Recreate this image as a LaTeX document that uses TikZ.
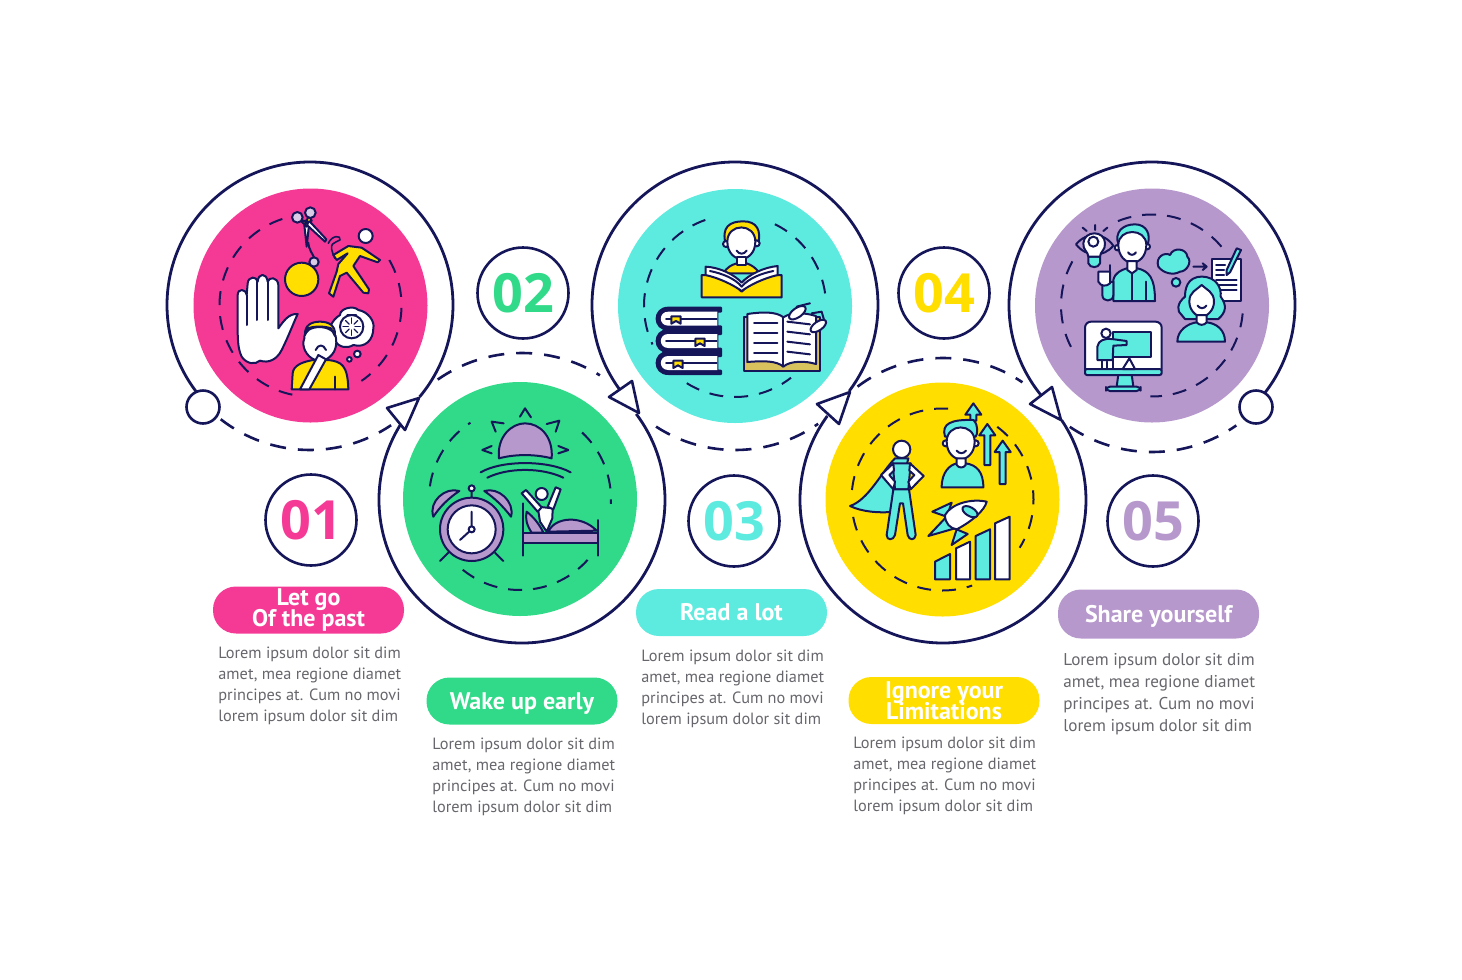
\documentclass[tikz,border=0pt]{standalone}
\usepackage{fontspec}
\setmainfont{PT Sans}
\newfontfamily\numfont{Open Sans}
\definecolor{navy}{HTML}{15155A}
\definecolor{pinkc}{HTML}{F53A96}
\definecolor{greenc}{HTML}{30DA88}
\definecolor{tealc}{HTML}{5EEBDF}
\definecolor{yellowc}{HTML}{FFDE00}
\definecolor{purplec}{HTML}{B698CC}
\definecolor{greyt}{HTML}{66666C}
\definecolor{tanc}{HTML}{D8C25E}
\tikzset{
	ring/.style={draw=navy,line width=1.4pt},
	dashring/.style={draw=navy,line width=1.3pt,dash pattern=on 8pt off 6pt},
	indash/.style={draw=navy,line width=1pt,dash pattern=on 7pt off 5.5pt},
	tipshape/.style={draw=navy,line width=1.3pt,fill=white,line join=round},
	disk/.style={circle,inner sep=0pt,minimum size=117pt},
	numc/.style={circle,draw=navy,line width=1.3pt,fill=white,inner sep=0pt,minimum size=45.5pt,font=\numfont\bfseries\fontsize{27}{27}\selectfont},
	pill/.style={rounded corners=11.5pt,minimum width=95.5pt,minimum height=23.5pt,inner sep=0pt,align=center,text=white,font=\bfseries\fontsize{12}{11}\selectfont},
	bodyt/.style={anchor=north west,inner sep=0pt,align=left,text=greyt,font=\fontsize{8.15}{10.5}\selectfont},
	ic/.style={draw=navy,line width=1pt,line join=round,line cap=round},
	zoomat/.style={shift={#1},scale=.33333},
}
% arrow icon used in the yellow disk
\newcommand{\riseicon}[3]{\draw[ic,fill=tealc] (#1,#2)--(#1+24,#2+34)--(#1+9,#2+34)--(#1+9,#3)--(#1-9,#3)--(#1-9,#2+34)--(#1-24,#2+34)--cycle;}
\begin{document}
\begin{tikzpicture}[x=.5pt,y=-.5pt,line join=round]
	\useasboundingbox (0,0) rectangle (1462,980);
	% outer rings
	\foreach \x/\y/\s/\e in {310/305/136/400,522/500/213/-37,735/305/144/397,943/500/216/-34,1152/305/141/404}{
		\draw[ring] (\x,\y) ++(\s:143) arc[start angle=\s,end angle=\e,radius=143];
	}
	% dashes between the rings
	\foreach \x/\y/\r/\s/\e in {310/305/145/128/56,522/500/147/235/302,735/305/145/123/55,943/500/142/233/304,1152/305/147/124/55}{
		\draw[dashring] (\x,\y) ++(\s:\r) arc[start angle=\s,end angle=\e,radius=\r];
	}
	\draw[tipshape] (387,408)--(419,398)--(405,430)--cycle;
	\draw[tipshape] (609,397)--(632,381)--(639,413)--cycle;
	\draw[tipshape] (817,404)--(850,392)--(839,424)--cycle;
	\draw[tipshape] (1030,404)--(1052,387)--(1061,420)--cycle;
	\node[circle,draw=navy,line width=1.3pt,fill=white,inner sep=0pt,minimum size=16.5pt] (startc) at (203,407) {};
	\node[circle,draw=navy,line width=1.3pt,fill=white,inner sep=0pt,minimum size=16.5pt] (endc) at (1256,407) {};
	% disks
	\node[disk,fill=pinkc] (disk1) at (310.5,305.5) {};
	\node[disk,fill=greenc] (disk2) at (520,499) {};
	\node[disk,fill=tealc] (disk3) at (735,306) {};
	\node[disk,fill=yellowc] (disk4) at (942.5,499.5) {};
	\node[disk,fill=purplec] (disk5) at (1152,305.5) {};
	% inner dashes
	\foreach \x/\y/\s/\e in {310.5/305.5/252/99,310.5/305.5/-30/56,
		520/499/188/237,520/499/-47/3,520/499/129/42,
		735/306/122/52,735/306/251/155,735/306/-64/-7,
		942.5/499.5/186/275,942.5/499.5/169/71,942.5/499.5/-53/32,
		1152/305.5/248/321,1152/305.5/209/149,1152/305.5/5/91}{
		\draw[indash] (\x,\y) ++(\s:91) arc[start angle=\s,end angle=\e,radius=91];
	}
	% numbers
	\node[numc,text=pinkc] (num1) at (311,520) {01};
	\node[numc,text=greenc] (num2) at (523,293) {02};
	\node[numc,text=tealc] (num3) at (734,521) {03};
	\node[numc,text=yellowc] (num4) at (944,293) {04};
	\node[numc,text=purplec] (num5) at (1153,521) {05};
	% titles
	\node[pill,fill=pinkc] (title1) at (308.5,610) {Let go\\[-1.5pt]Of the past};
	\node[pill,fill=greenc,text depth=0pt] (title2) at (522,701) {Wake up early};
	\node[pill,fill=tealc] (title3) at (731.5,612.5) {Read a lot};
	\node[pill,fill=yellowc] (title4) at (944,700.5) {Ignore your\\[-1.5pt]Limitations};
	\node[pill,fill=purplec,text depth=0pt,minimum width=100.5pt,minimum height=24.5pt] (title5) at (1158.5,614) {Share yourself};
	% texts
	\foreach \n/\x/\y in {1/218/647,2/432/738,3/641/650,4/853/737}{
		\node[bodyt] (txt\n) at (\x,\y) {Lorem ipsum dolor sit dim\\amet, mea regione diamet\\principes at. Cum no movi\\lorem ipsum dolor sit dim};
	}
	\node[bodyt,font=\fontsize{8.55}{11.15}\selectfont] (txt5) at (1063,652.5) {Lorem ipsum dolor sit dim\\amet, mea regione diamet\\principes at. Cum no movi\\lorem ipsum dolor sit dim};
	% icon 1
	\begin{scope}[zoomat={(225,200)}]
		\draw[ic,fill=white] (38,285) .. controls (38,265) and (62,265) .. (65,285) -- (68,250) .. controls (70,228) and (95,228) .. (98,245) .. controls (100,218) and (125,218) .. (128,245) .. controls (132,230) and (158,230) .. (160,255) -- (160,385) .. controls (175,365) and (190,340) .. (218,342) .. controls (205,370) and (190,410) .. (170,450) .. controls (155,480) and (130,490) .. (105,482) .. controls (90,495) and (65,492) .. (50,470) .. controls (35,440) and (38,400) .. (38,285) -- cycle;
		\draw[ic] (65,285)--(65,375) (97,245)--(97,360) (128,245)--(128,360);
		\draw[ic,fill=yellowc] (230,238) circle (50);
		\draw[ic,fill=purplec!50!white] (267,186) circle (14);
		\draw[ic] (267,172) .. controls (262,160) and (252,150) .. (250,128);
		\draw[ic,line width=.8pt] (310,130) .. controls (320,105) and (350,105) .. (345,120) .. controls (330,130) and (305,125) .. (330,175);
		\draw[ic,fill=white] (238,75)--(245,140)--(252,75)--cycle;
		\draw[ic,fill=white] (235,65)--(300,125)--(304,118)--(250,60)--cycle;
		\draw[ic,fill=yellowc] (225,60)--(245,80)--(250,65)--cycle (252,48)--(240,70)--(260,62)--cycle;
		\draw[ic,fill=purplec!50!white] (217,52) circle (16) (256,38) circle (16);
		\draw[ic,fill=white] (422,108) circle (21);
		\draw[ic,fill=yellowc] (325,165) -- (370,138) -- (410,143) -- (465,180) -- (458,187) -- (405,168) -- (385,198) -- (432,268) -- (430,280) -- (415,278) -- (365,218) -- (345,228) -- (325,290) -- (312,280) -- (335,215) -- (340,192) -- (368,160) -- (335,180) -- cycle;
		\draw[ic,fill=white] (330,420) .. controls (300,395) and (320,360) .. (345,345) .. controls (345,325) and (385,315) .. (400,330) .. controls (430,335) and (450,365) .. (445,385) .. controls (445,420) and (420,445) .. (385,435) .. controls (370,445) and (340,445) .. (330,420) -- cycle;
		\draw[ic,fill=white] (380,380) circle (35);
		\foreach \a in {0,45,...,315}{\draw[ic,line width=.6pt] (380,380) ++(\a:10) -- ++(\a:16);}
		\draw[ic] (367,345)--(393,345);
		\draw[ic,fill=white] (397,462) circle (10) (373,478) circle (7);
		\draw[ic,fill=white] (270,480) .. controls (245,470) and (228,440) .. (238,415) .. controls (235,370) and (330,370) .. (333,415) .. controls (338,450) and (320,470) .. (300,480) -- cycle;
		\draw[ic,fill=yellowc] (240,405) .. controls (238,375) and (260,365) .. (285,365) .. controls (310,365) and (333,375) .. (330,408) -- (318,385) .. controls (300,378) and (265,378) .. (250,385) -- cycle;
		\draw[ic] (272,450) .. controls (280,432) and (295,432) .. (303,450);
		\draw[ic,fill=yellowc] (200,568) -- (203,520) .. controls (205,495) and (235,485) .. (265,480) -- (310,480) .. controls (350,485) and (368,495) .. (370,568) -- cycle;
		\draw[ic,fill=white] (225,568) -- (280,465) -- (303,478) -- (253,568) -- cycle;
		\draw[ic] (330,530)--(330,568);
	\end{scope}
	% icon 2
	\begin{scope}[zoomat={(425,410)}]
		\draw[ic,fill=purplec] (222,145) .. controls (215,80) and (260,40) .. (300,40) .. controls (345,40) and (385,80) .. (380,145) .. controls (330,132) and (270,132) .. (222,145) -- cycle;
		\draw[ic] (285,20)--(300,-5)--(318,22) (236,40)--(200,35)--(212,65) (365,42)--(403,32)--(392,65) (200,108)--(172,120)--(200,130) (400,108)--(430,120)--(400,130);
		\draw[ic] (167,187) .. controls (230,150) and (370,150) .. (437,187) (187,203) .. controls (250,172) and (350,172) .. (415,203);
		\draw[ic,fill=purplec] (25,320) .. controls (10,275) and (60,230) .. (103,243) .. controls (70,265) and (45,290) .. (25,320) -- cycle;
		\draw[ic,fill=purplec] (258,320) .. controls (270,275) and (220,230) .. (178,243) .. controls (210,265) and (235,290) .. (258,320) -- cycle;
		\draw[ic] (140,235)--(140,262) (70,428)--(45,453) (210,428)--(235,453);
		\draw[ic,fill=white] (140,235) circle (9);
		\draw[ic,fill=purplec] (140,358) circle (95);
		\draw[ic,fill=white] (140,358) circle (72);
		\draw[ic] (140,305)--(140,358)--(105,390);
		\draw[ic,fill=white] (140,358) circle (9);
		\draw[ic,fill=purplec] (305,305) .. controls (325,320) and (345,345) .. (355,368) -- (320,368) .. controls (305,345) and (300,325) .. (305,305) -- cycle;
		\draw[ic,fill=purplec] (370,365) .. controls (390,320) and (470,315) .. (515,362) -- cycle;
		\draw[ic,fill=purplec] (295,368) rectangle (520,400);
		\draw[ic] (293,280)--(293,437) (520,330)--(520,437);
		\draw[ic,fill=white] (338,290) -- (383,295) -- (382,325) -- (365,365) -- (345,335) -- cycle;
		\draw[ic,fill=white] (290,250) -- (303,240) -- (350,292) -- (338,305) -- cycle;
		\draw[ic,fill=white] (392,232) -- (407,238) -- (385,298) -- (368,290) -- cycle;
		\draw[ic,fill=white] (350,252) circle (18);
	\end{scope}
	% icon 3
	\begin{scope}[zoomat={(640,210)}]
		\draw[ic,fill=yellowc] (258,105) .. controls (242,50) and (270,34) .. (310,34) .. controls (350,34) and (365,60) .. (354,105) -- cycle;
		\draw[ic,fill=white] (258,102) circle (9) (350,100) circle (9);
		\draw[ic,fill=white] (262,95) .. controls (262,38) and (346,38) .. (346,95) .. controls (346,130) and (322,147) .. (304,147) .. controls (286,147) and (262,130) .. (262,95) -- cycle;
		\draw[ic] (290,122) .. controls (298,134) and (312,134) .. (320,122);
		\draw[ic,fill=yellowc] (250,190) .. controls (262,170) and (275,165) .. (290,160) -- (320,160) .. controls (335,165) and (350,175) .. (358,190) -- cycle;
		\draw[ic,fill=white] (290,142) rectangle (318,165);
		\draw[ic,fill=yellowc] (185,195) -- (185,262) -- (425,262) -- (425,195) -- (355,195) -- (305,245) -- (250,195) -- cycle;
		\draw[ic,fill=white] (197,170) .. controls (240,172) and (285,195) .. (305,218) .. controls (325,195) and (370,172) .. (413,168) -- (413,195) .. controls (370,205) and (330,225) .. (305,243) .. controls (280,225) and (240,205) .. (197,195) -- cycle;
		\draw[ic] (210,183) .. controls (245,190) and (285,205) .. (305,230) .. controls (325,205) and (365,190) .. (400,183);
		\foreach \y/\mx in {293/108,360/180,426/114}{
			\draw[ic,fill=navy] (243,\y) -- (85,\y) .. controls (38,\y) and (38,\y+66) .. (85,\y+66) -- (243,\y+66) -- (243,\y+56) -- (232,\y+56) -- (232,\y+12) -- (243,\y+12) -- cycle;
			\fill[white] (232,\y+12) -- (85,\y+12) .. controls (55,\y+12) and (55,\y+54) .. (85,\y+54) -- (232,\y+54) -- cycle;
			\draw[ic] (78,\y+33)--(230,\y+33);
			\draw[ic,fill=yellowc] (\mx-14,\y+26)--(\mx+14,\y+26)--(\mx+14,\y+48)--(\mx,\y+40)--(\mx-14,\y+48)--cycle;
		}
		\draw[ic,fill=tanc] (313,320) rectangle (540,482);
		\draw[ic,fill=white] (322,312) .. controls (370,305) and (410,305) .. (430,322) .. controls (455,305) and (495,308) .. (528,318) -- (528,462) .. controls (495,452) and (450,452) .. (430,470) .. controls (410,452) and (370,452) .. (322,456) -- cycle;
		\draw[ic] (430,322)--(430,470);
		\foreach \y in {0,30,60,90}{
			\draw[ic] (342,338+\y)--(412,338+\y);
			\draw[ic] (442,335+\y)--(510,343+\y);
		}
		\draw[ic] (470,290)--(510,280) (515,310)--(545,305)--(555,340);
		\draw[ic,fill=white,rotate around={35:(472,308)}] (472,308) ellipse (29 and 14);
		\draw[ic,fill=white,rotate around={35:(535,348)}] (535,348) ellipse (27 and 13);
	\end{scope}
	% icon 4
	\begin{scope}[zoomat={(845,400)}]
		\draw[ic,fill=tealc] (15,318) .. controls (70,300) and (110,215) .. (150,175) -- (190,175) -- (150,335) .. controls (100,340) and (50,335) .. (15,318) -- cycle;
		\draw[ic,fill=tealc] (143,190) -- (197,190) -- (190,268) -- (150,268) -- cycle;
		\draw[ic,fill=white] (145,190) -- (108,225) -- (145,268) -- (150,245) -- (133,225) -- (147,212) -- cycle;
		\draw[ic,fill=white] (195,190) -- (236,228) -- (197,268) -- (190,245) -- (208,225) -- (193,212) -- cycle;
		\draw[ic,fill=tealc] (145,268) -- (192,268) -- (212,405) .. controls (210,422) and (192,422) .. (188,405) -- (174,310) -- (165,310) -- (150,405) .. controls (145,422) and (125,422) .. (125,405) -- cycle;
		\draw[ic,fill=white] (170,148) circle (26);
		\riseicon{385}{10}{62}
		\riseicon{427}{72}{195}
		\riseicon{473}{122}{252}
		\draw[ic,fill=tealc] (300,110) .. controls (288,70) and (320,58) .. (385,60) .. controls (402,75) and (397,105) .. (392,110) -- cycle;
		\draw[ic,fill=white] (302,130) circle (9) (392,130) circle (9);
		\draw[ic,fill=white] (305,125) .. controls (305,68) and (389,68) .. (389,125) .. controls (389,160) and (365,178) .. (347,178) .. controls (329,178) and (305,160) .. (305,125) -- cycle;
		\draw[ic] (335,152) .. controls (343,162) and (355,162) .. (363,152);
		\draw[ic,fill=tealc] (290,262) .. controls (290,215) and (315,195) .. (335,190) -- (362,190) .. controls (395,195) and (415,215) .. (415,262) -- cycle;
		\draw[ic,fill=white] (335,175) -- (335,195) .. controls (342,205) and (355,205) .. (362,195) -- (362,175) -- cycle;
		\draw[ic,fill=tealc] (320,308) -- (262,335) -- (305,350) -- cycle;
		\draw[ic,fill=tealc] (300,355) -- (250,408) -- (330,385) -- cycle;
		\draw[ic,fill=tealc] (335,388) -- (320,435) -- (368,402) -- cycle;
		\draw[ic,fill=white] (425,305) .. controls (380,295) and (320,310) .. (300,345) .. controls (300,370) and (315,385) .. (335,388) .. controls (380,365) and (420,330) .. (425,305) -- cycle;
		\draw[ic,fill=tealc,rotate around={-30:(375,335)}] (375,335) ellipse (25 and 13);
		\draw[ic,fill=tealc] (270,538)--(270,485)--(315,462)--(315,538)--cycle;
		\draw[ic,fill=white] (333,538)--(333,445)--(375,425)--(375,538)--cycle;
		\draw[ic,fill=tealc] (392,538)--(392,408)--(435,388)--(435,538)--cycle;
		\draw[ic,fill=white] (450,538)--(450,370)--(494,350)--(494,538)--cycle;
	\end{scope}
	% icon 5
	\begin{scope}[zoomat={(1070,215)}]
		\draw[ic] (18,88) .. controls (50,50) and (100,50) .. (130,92) .. controls (100,128) and (50,128) .. (18,88) -- cycle;
		\draw[ic] (38,38)--(50,48) (75,30)--(75,45) (112,38)--(100,48);
		\draw[ic,fill=tealc] (55,125) -- (90,125) -- (90,145) .. controls (85,160) and (60,160) .. (55,145) -- cycle;
		\draw[ic,fill=white] (55,125) .. controls (55,110) and (38,105) .. (40,85) .. controls (42,45) and (105,45) .. (105,85) .. controls (107,105) and (90,110) .. (90,125) -- cycle;
		\draw[ic,fill=white] (70,80) circle (15);
		\draw[ic,fill=tealc] (146,90) .. controls (131,50) and (160,28) .. (195,28) .. controls (230,28) and (244,60) .. (232,90) -- cycle;
		\draw[ic,fill=white] (142,98) circle (8) (232,95) circle (8);
		\draw[ic,fill=white] (145,90) .. controls (145,38) and (229,38) .. (229,90) .. controls (229,125) and (206,143) .. (187,143) .. controls (168,143) and (145,125) .. (145,90) -- cycle;
		\draw[ic] (174,112) .. controls (180,122) and (192,122) .. (198,112);
		\draw[ic,fill=tealc] (130,258) -- (130,195) .. controls (135,172) and (155,165) .. (170,160) -- (202,160) .. controls (235,168) and (255,185) .. (255,258) -- cycle;
		\draw[ic,fill=white] (172,138) -- (172,165) -- (186,175) -- (200,165) -- (200,138) -- cycle;
		\draw[ic] (186,175)--(186,258) (228,200)--(228,258);
		\draw[ic,fill=tealc] (97,205) -- (97,240) .. controls (97,262) and (130,262) .. (130,240) -- (130,200) -- cycle;
		\draw[ic,fill=white] (85,170) -- (120,170) -- (120,205) .. controls (110,215) and (92,215) .. (85,200) -- cycle;
		\draw[ic] (120,150)--(120,175);
		\draw[ic,fill=tealc] (265,155) .. controls (255,125) and (285,110) .. (300,120) .. controls (310,95) and (350,100) .. (352,125) .. controls (368,140) and (350,170) .. (330,170) .. controls (310,182) and (280,175) .. (265,155) -- cycle;
		\draw[ic,fill=tealc] (318,202) circle (13);
		\draw[ic] (370,155)--(410,155) (398,145)--(410,155)--(398,165);
		\draw[ic,fill=white] (425,133) rectangle (512,258);
		\draw[ic] (438,150)--(465,150) (438,165)--(462,165) (438,180)--(462,180) (438,195)--(500,195) (438,210)--(500,210) (438,225)--(500,225);
		\draw[ic,fill=tealc] (470,165) -- (500,100) -- (513,105) -- (480,172) -- (470,180) -- cycle;
		\draw[ic,fill=tealc] (395,185) .. controls (350,185) and (345,225) .. (345,245) .. controls (320,265) and (320,290) .. (335,300) -- (345,312) -- (445,312) .. controls (470,290) and (470,270) .. (452,245) .. controls (455,220) and (440,185) .. (395,185) -- cycle;
		\draw[ic,fill=white] (358,260) .. controls (358,230) and (380,225) .. (395,210) .. controls (410,225) and (432,230) .. (432,260) .. controls (432,285) and (412,305) .. (395,305) .. controls (378,305) and (358,285) .. (358,260) -- cycle;
		\draw[ic] (383,272) .. controls (390,282) and (402,282) .. (409,272);
		\draw[ic,fill=tealc] (322,380) .. controls (322,345) and (355,325) .. (380,322) -- (410,322) .. controls (440,325) and (465,345) .. (465,380) -- cycle;
		\draw[ic,fill=white] (380,300) -- (380,322) .. controls (388,332) and (402,332) .. (410,322) -- (410,300) -- cycle;
		\draw[ic,fill=tealc] (145,478) -- (185,478) -- (190,515) -- (140,515) -- cycle;
		\draw[ic,fill=tealc,rounded corners=2pt] (108,515) rectangle (212,528);
		\draw[ic,fill=white,rounded corners=3pt] (45,320) rectangle (275,478);
		\draw[ic,fill=tealc,rounded corners=1pt] (45,462) rectangle (275,480);
		\draw[ic,fill=tealc] (130,350) rectangle (243,425);
		\draw[ic,fill=white] (158,462)--(178,430)--(195,462)--cycle;
		\draw[ic,fill=white] (95,430) rectangle (128,462);
		\draw[ic] (112,440)--(112,462);
		\draw[ic,fill=tealc] (82,435) -- (82,395) .. controls (85,375) and (105,370) .. (125,372) -- (170,378) -- (170,390) -- (130,392) -- (128,435) -- cycle;
		\draw[ic,fill=white] (108,355) circle (14);
	\end{scope}
\end{tikzpicture}
\end{document}
